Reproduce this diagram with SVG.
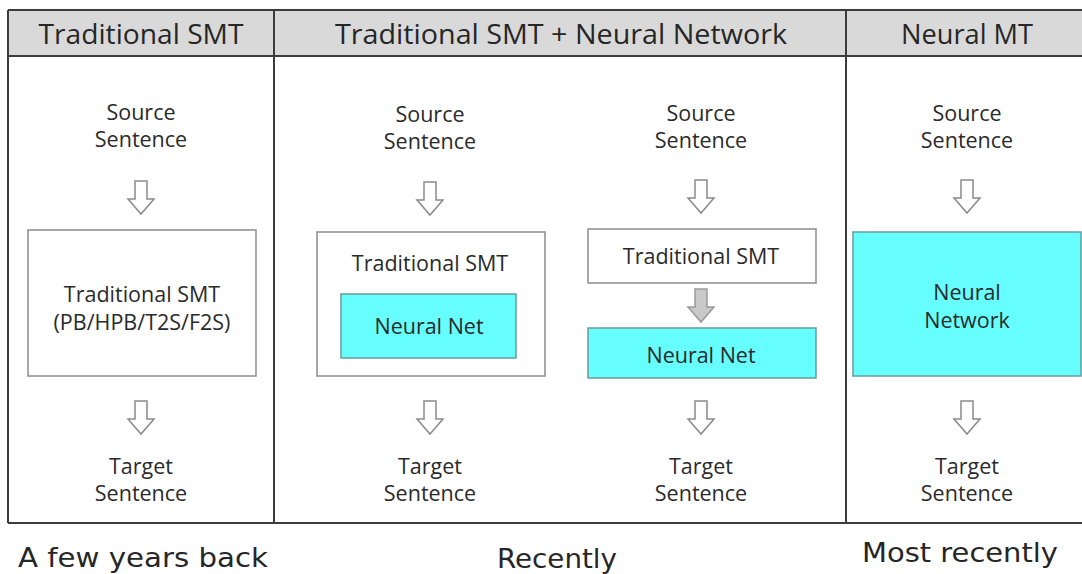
<svg xmlns="http://www.w3.org/2000/svg" xmlns:xlink="http://www.w3.org/1999/xlink" width="1082" height="574" viewBox="0 0 1082 574">
  <style>
    .grid { stroke: #3c3c3c; stroke-width: 2; fill: none; }
    .head { fill: #d9d9d9; }
    .htxt { font-family: "Open Sans", "Noto Sans", sans-serif; font-size: 27px; fill: #262626; text-anchor: middle; }
    .txt { font-family: "Open Sans", "Noto Sans", sans-serif; font-size: 21.5px; fill: #2a2a2a; text-anchor: middle; }
    .cap { font-family: "DejaVu Sans", sans-serif; font-size: 27px; fill: #262626; }
    .box { fill: #ffffff; stroke: #8c8c8c; stroke-width: 1.5; }
    .nn { fill: #66fefe; stroke: #6a9a9a; stroke-width: 1.5; }
    .arrow { fill: #ffffff; stroke: #8a8a8a; stroke-width: 1.5; }
    .arrow-g { fill: #c9c9c9; stroke: #9a9a9a; stroke-width: 1.5; }
  </style>
  <defs>
    <path id="blk" d="M-6,0 H6 V18 H13 L0,33 L-13,18 H-6 Z"/>
  </defs>

  <rect width="1082" height="574" fill="#ffffff"/>

  <!-- table frame -->
  <g id="table">
    <rect class="head" x="8" y="10" width="1074" height="46"/>
    <line class="grid" x1="8" y1="10" x2="1082" y2="10"/>
    <line class="grid" x1="8" y1="56" x2="1082" y2="56"/>
    <line class="grid" x1="8" y1="523" x2="1082" y2="523"/>
    <line class="grid" x1="8" y1="10" x2="8" y2="523"/>
    <line class="grid" x1="274" y1="10" x2="274" y2="523"/>
    <line class="grid" x1="846" y1="10" x2="846" y2="523"/>
    <text class="htxt" x="141" y="44" textLength="205" lengthAdjust="spacingAndGlyphs">Traditional SMT</text>
    <text class="htxt" x="561" y="44" textLength="452" lengthAdjust="spacingAndGlyphs">Traditional SMT + Neural Network</text>
    <text class="htxt" x="967" y="44" textLength="132" lengthAdjust="spacingAndGlyphs">Neural MT</text>
  </g>

  <!-- column 1: traditional SMT -->
  <g id="src1"><text class="txt" x="141" y="120">Source</text><text class="txt" x="141" y="147">Sentence</text></g>
  <g id="smt1">
    <rect class="box" x="28" y="230" width="228" height="146"/>
    <text class="txt" x="142" y="302">Traditional SMT</text>
    <text class="txt" x="142" y="330">(PB/HPB/T2S/F2S)</text>
  </g>
  <g id="tgt1"><text class="txt" x="141" y="474">Target</text><text class="txt" x="141" y="501">Sentence</text></g>

  <!-- column 2a: neural net inside SMT -->
  <g id="src2"><text class="txt" x="430" y="122">Source</text><text class="txt" x="430" y="149">Sentence</text></g>
  <g id="smt2">
    <rect class="box" x="317" y="232" width="228" height="144"/>
    <text class="txt" x="430" y="271">Traditional SMT</text>
  </g>
  <g id="nn2">
    <rect class="nn" x="341" y="294" width="175" height="64"/>
    <text class="txt" x="429" y="334">Neural Net</text>
  </g>
  <g id="tgt2"><text class="txt" x="430" y="474">Target</text><text class="txt" x="430" y="501">Sentence</text></g>

  <!-- column 2b: SMT followed by neural net -->
  <g id="src3"><text class="txt" x="701" y="121">Source</text><text class="txt" x="701" y="148">Sentence</text></g>
  <g id="smt3">
    <rect class="box" x="588" y="229" width="228" height="54"/>
    <text class="txt" x="701" y="264">Traditional SMT</text>
  </g>
  <g id="nn3">
    <rect class="nn" x="588" y="328" width="228" height="50"/>
    <text class="txt" x="701" y="363">Neural Net</text>
  </g>
  <g id="tgt3"><text class="txt" x="701" y="474">Target</text><text class="txt" x="701" y="501">Sentence</text></g>

  <!-- column 3: neural MT -->
  <g id="src4"><text class="txt" x="967" y="121">Source</text><text class="txt" x="967" y="148">Sentence</text></g>
  <g id="nn4">
    <rect class="nn" x="853" y="232" width="228" height="144"/>
    <text class="txt" x="967" y="300">Neural</text>
    <text class="txt" x="967" y="328">Network</text>
  </g>
  <g id="tgt4"><text class="txt" x="967" y="474">Target</text><text class="txt" x="967" y="501">Sentence</text></g>

  <!-- connectors -->
  <g id="connectors">
    <use href="#blk" xlink:href="#blk" class="arrow" x="141" y="181"/>
    <use href="#blk" xlink:href="#blk" class="arrow" x="141" y="401"/>
    <use href="#blk" xlink:href="#blk" class="arrow" x="430" y="182"/>
    <use href="#blk" xlink:href="#blk" class="arrow" x="430" y="401"/>
    <use href="#blk" xlink:href="#blk" class="arrow" x="701" y="180"/>
    <use href="#blk" xlink:href="#blk" class="arrow-g" x="701" y="289"/>
    <use href="#blk" xlink:href="#blk" class="arrow" x="701" y="401"/>
    <use href="#blk" xlink:href="#blk" class="arrow" x="967" y="180"/>
    <use href="#blk" xlink:href="#blk" class="arrow" x="967" y="401"/>
  </g>

  <!-- period captions -->
  <g id="captions">
    <text class="cap" x="18" y="567" textLength="250" lengthAdjust="spacingAndGlyphs">A few years back</text>
    <text class="cap" x="497" y="568" textLength="120" lengthAdjust="spacingAndGlyphs">Recently</text>
    <text class="cap" x="862" y="562" textLength="196" lengthAdjust="spacingAndGlyphs">Most recently</text>
  </g>
</svg>
